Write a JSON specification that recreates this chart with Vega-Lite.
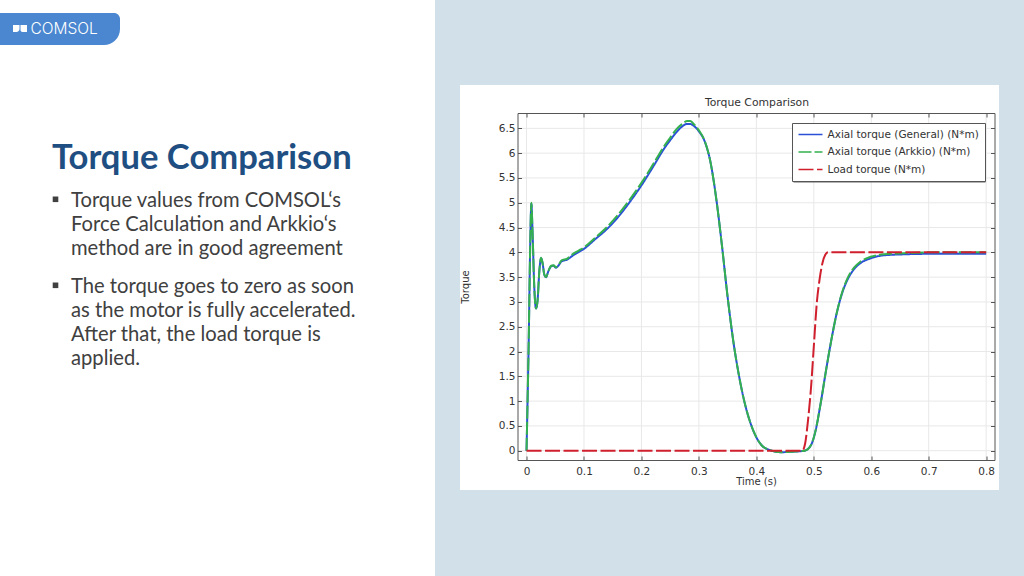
{
  "$schema": "https://vega.github.io/schema/vega-lite/v6.json",
  "autosize": "none",
  "width": 477,
  "height": 347,
  "padding": {"left": 517.5, "top": 113, "right": 29.5, "bottom": 116},
  "background": "white",
  "config": {"view": {"stroke": null}},
  "datasets": {
    "torque": [
      {"time":0,"torque":0,"series":"Axial torque (General) (N*m)"},
      {"time":0.0038,"torque":2.2,"series":"Axial torque (General) (N*m)"},
      {"time":0.0065,"torque":4.2,"series":"Axial torque (General) (N*m)"},
      {"time":0.0084,"torque":4.98,"series":"Axial torque (General) (N*m)"},
      {"time":0.0105,"torque":4.4,"series":"Axial torque (General) (N*m)"},
      {"time":0.0135,"torque":3.3,"series":"Axial torque (General) (N*m)"},
      {"time":0.0165,"torque":2.87,"series":"Axial torque (General) (N*m)"},
      {"time":0.019,"torque":3.0,"series":"Axial torque (General) (N*m)"},
      {"time":0.0225,"torque":3.65,"series":"Axial torque (General) (N*m)"},
      {"time":0.0253,"torque":3.88,"series":"Axial torque (General) (N*m)"},
      {"time":0.028,"torque":3.78,"series":"Axial torque (General) (N*m)"},
      {"time":0.031,"torque":3.55,"series":"Axial torque (General) (N*m)"},
      {"time":0.034,"torque":3.5,"series":"Axial torque (General) (N*m)"},
      {"time":0.038,"torque":3.62,"series":"Axial torque (General) (N*m)"},
      {"time":0.043,"torque":3.72,"series":"Axial torque (General) (N*m)"},
      {"time":0.047,"torque":3.73,"series":"Axial torque (General) (N*m)"},
      {"time":0.051,"torque":3.69,"series":"Axial torque (General) (N*m)"},
      {"time":0.056,"torque":3.74,"series":"Axial torque (General) (N*m)"},
      {"time":0.061,"torque":3.82,"series":"Axial torque (General) (N*m)"},
      {"time":0.07,"torque":3.85,"series":"Axial torque (General) (N*m)"},
      {"time":0.08,"torque":3.93,"series":"Axial torque (General) (N*m)"},
      {"time":0.09,"torque":4.0,"series":"Axial torque (General) (N*m)"},
      {"time":0.1,"torque":4.07,"series":"Axial torque (General) (N*m)"},
      {"time":0.12,"torque":4.27,"series":"Axial torque (General) (N*m)"},
      {"time":0.14,"torque":4.47,"series":"Axial torque (General) (N*m)"},
      {"time":0.16,"torque":4.72,"series":"Axial torque (General) (N*m)"},
      {"time":0.18,"torque":5.02,"series":"Axial torque (General) (N*m)"},
      {"time":0.2,"torque":5.35,"series":"Axial torque (General) (N*m)"},
      {"time":0.22,"torque":5.72,"series":"Axial torque (General) (N*m)"},
      {"time":0.24,"torque":6.1,"series":"Axial torque (General) (N*m)"},
      {"time":0.25,"torque":6.26,"series":"Axial torque (General) (N*m)"},
      {"time":0.26,"torque":6.41,"series":"Axial torque (General) (N*m)"},
      {"time":0.27,"torque":6.53,"series":"Axial torque (General) (N*m)"},
      {"time":0.28,"torque":6.59,"series":"Axial torque (General) (N*m)"},
      {"time":0.285,"torque":6.59,"series":"Axial torque (General) (N*m)"},
      {"time":0.29,"torque":6.56,"series":"Axial torque (General) (N*m)"},
      {"time":0.3,"torque":6.44,"series":"Axial torque (General) (N*m)"},
      {"time":0.31,"torque":6.24,"series":"Axial torque (General) (N*m)"},
      {"time":0.32,"torque":5.83,"series":"Axial torque (General) (N*m)"},
      {"time":0.33,"torque":5.1,"series":"Axial torque (General) (N*m)"},
      {"time":0.34,"torque":4.15,"series":"Axial torque (General) (N*m)"},
      {"time":0.35,"torque":3.1,"series":"Axial torque (General) (N*m)"},
      {"time":0.36,"torque":2.2,"series":"Axial torque (General) (N*m)"},
      {"time":0.37,"torque":1.5,"series":"Axial torque (General) (N*m)"},
      {"time":0.38,"torque":0.95,"series":"Axial torque (General) (N*m)"},
      {"time":0.39,"torque":0.55,"series":"Axial torque (General) (N*m)"},
      {"time":0.4,"torque":0.27,"series":"Axial torque (General) (N*m)"},
      {"time":0.41,"torque":0.1,"series":"Axial torque (General) (N*m)"},
      {"time":0.423,"torque":0.015,"series":"Axial torque (General) (N*m)"},
      {"time":0.443,"torque":-0.03,"series":"Axial torque (General) (N*m)"},
      {"time":0.463,"torque":-0.02,"series":"Axial torque (General) (N*m)"},
      {"time":0.484,"torque":0,"series":"Axial torque (General) (N*m)"},
      {"time":0.495,"torque":0.11,"series":"Axial torque (General) (N*m)"},
      {"time":0.503,"torque":0.4,"series":"Axial torque (General) (N*m)"},
      {"time":0.512,"torque":0.96,"series":"Axial torque (General) (N*m)"},
      {"time":0.521,"torque":1.6,"series":"Axial torque (General) (N*m)"},
      {"time":0.53,"torque":2.2,"series":"Axial torque (General) (N*m)"},
      {"time":0.54,"torque":2.78,"series":"Axial torque (General) (N*m)"},
      {"time":0.55,"torque":3.2,"series":"Axial torque (General) (N*m)"},
      {"time":0.56,"torque":3.48,"series":"Axial torque (General) (N*m)"},
      {"time":0.57,"torque":3.66,"series":"Axial torque (General) (N*m)"},
      {"time":0.581,"torque":3.78,"series":"Axial torque (General) (N*m)"},
      {"time":0.599,"torque":3.88,"series":"Axial torque (General) (N*m)"},
      {"time":0.622,"torque":3.94,"series":"Axial torque (General) (N*m)"},
      {"time":0.656,"torque":3.96,"series":"Axial torque (General) (N*m)"},
      {"time":0.7,"torque":3.97,"series":"Axial torque (General) (N*m)"},
      {"time":0.8,"torque":3.97,"series":"Axial torque (General) (N*m)"},
      {"time":0,"torque":0,"series":"Axial torque (Arkkio) (N*m)"},
      {"time":0.0038,"torque":2.2,"series":"Axial torque (Arkkio) (N*m)"},
      {"time":0.0065,"torque":4.2,"series":"Axial torque (Arkkio) (N*m)"},
      {"time":0.0084,"torque":5.0,"series":"Axial torque (Arkkio) (N*m)"},
      {"time":0.0105,"torque":4.4,"series":"Axial torque (Arkkio) (N*m)"},
      {"time":0.0135,"torque":3.3,"series":"Axial torque (Arkkio) (N*m)"},
      {"time":0.0165,"torque":2.87,"series":"Axial torque (Arkkio) (N*m)"},
      {"time":0.019,"torque":3.0,"series":"Axial torque (Arkkio) (N*m)"},
      {"time":0.0225,"torque":3.65,"series":"Axial torque (Arkkio) (N*m)"},
      {"time":0.0253,"torque":3.89,"series":"Axial torque (Arkkio) (N*m)"},
      {"time":0.028,"torque":3.78,"series":"Axial torque (Arkkio) (N*m)"},
      {"time":0.031,"torque":3.55,"series":"Axial torque (Arkkio) (N*m)"},
      {"time":0.034,"torque":3.5,"series":"Axial torque (Arkkio) (N*m)"},
      {"time":0.038,"torque":3.62,"series":"Axial torque (Arkkio) (N*m)"},
      {"time":0.043,"torque":3.73,"series":"Axial torque (Arkkio) (N*m)"},
      {"time":0.047,"torque":3.74,"series":"Axial torque (Arkkio) (N*m)"},
      {"time":0.051,"torque":3.7,"series":"Axial torque (Arkkio) (N*m)"},
      {"time":0.056,"torque":3.75,"series":"Axial torque (Arkkio) (N*m)"},
      {"time":0.061,"torque":3.84,"series":"Axial torque (Arkkio) (N*m)"},
      {"time":0.07,"torque":3.87,"series":"Axial torque (Arkkio) (N*m)"},
      {"time":0.08,"torque":3.96,"series":"Axial torque (Arkkio) (N*m)"},
      {"time":0.09,"torque":4.03,"series":"Axial torque (Arkkio) (N*m)"},
      {"time":0.1,"torque":4.1,"series":"Axial torque (Arkkio) (N*m)"},
      {"time":0.12,"torque":4.3,"series":"Axial torque (Arkkio) (N*m)"},
      {"time":0.14,"torque":4.51,"series":"Axial torque (Arkkio) (N*m)"},
      {"time":0.16,"torque":4.77,"series":"Axial torque (Arkkio) (N*m)"},
      {"time":0.18,"torque":5.07,"series":"Axial torque (Arkkio) (N*m)"},
      {"time":0.2,"torque":5.4,"series":"Axial torque (Arkkio) (N*m)"},
      {"time":0.22,"torque":5.77,"series":"Axial torque (Arkkio) (N*m)"},
      {"time":0.24,"torque":6.15,"series":"Axial torque (Arkkio) (N*m)"},
      {"time":0.25,"torque":6.31,"series":"Axial torque (Arkkio) (N*m)"},
      {"time":0.26,"torque":6.47,"series":"Axial torque (Arkkio) (N*m)"},
      {"time":0.27,"torque":6.58,"series":"Axial torque (Arkkio) (N*m)"},
      {"time":0.28,"torque":6.65,"series":"Axial torque (Arkkio) (N*m)"},
      {"time":0.285,"torque":6.65,"series":"Axial torque (Arkkio) (N*m)"},
      {"time":0.29,"torque":6.6,"series":"Axial torque (Arkkio) (N*m)"},
      {"time":0.3,"torque":6.46,"series":"Axial torque (Arkkio) (N*m)"},
      {"time":0.31,"torque":6.25,"series":"Axial torque (Arkkio) (N*m)"},
      {"time":0.32,"torque":5.83,"series":"Axial torque (Arkkio) (N*m)"},
      {"time":0.33,"torque":5.1,"series":"Axial torque (Arkkio) (N*m)"},
      {"time":0.34,"torque":4.15,"series":"Axial torque (Arkkio) (N*m)"},
      {"time":0.35,"torque":3.1,"series":"Axial torque (Arkkio) (N*m)"},
      {"time":0.36,"torque":2.2,"series":"Axial torque (Arkkio) (N*m)"},
      {"time":0.37,"torque":1.5,"series":"Axial torque (Arkkio) (N*m)"},
      {"time":0.38,"torque":0.95,"series":"Axial torque (Arkkio) (N*m)"},
      {"time":0.39,"torque":0.55,"series":"Axial torque (Arkkio) (N*m)"},
      {"time":0.4,"torque":0.27,"series":"Axial torque (Arkkio) (N*m)"},
      {"time":0.41,"torque":0.1,"series":"Axial torque (Arkkio) (N*m)"},
      {"time":0.423,"torque":0.015,"series":"Axial torque (Arkkio) (N*m)"},
      {"time":0.443,"torque":-0.03,"series":"Axial torque (Arkkio) (N*m)"},
      {"time":0.463,"torque":-0.02,"series":"Axial torque (Arkkio) (N*m)"},
      {"time":0.484,"torque":0,"series":"Axial torque (Arkkio) (N*m)"},
      {"time":0.495,"torque":0.11,"series":"Axial torque (Arkkio) (N*m)"},
      {"time":0.503,"torque":0.4,"series":"Axial torque (Arkkio) (N*m)"},
      {"time":0.512,"torque":0.96,"series":"Axial torque (Arkkio) (N*m)"},
      {"time":0.521,"torque":1.6,"series":"Axial torque (Arkkio) (N*m)"},
      {"time":0.53,"torque":2.2,"series":"Axial torque (Arkkio) (N*m)"},
      {"time":0.54,"torque":2.78,"series":"Axial torque (Arkkio) (N*m)"},
      {"time":0.55,"torque":3.22,"series":"Axial torque (Arkkio) (N*m)"},
      {"time":0.56,"torque":3.51,"series":"Axial torque (Arkkio) (N*m)"},
      {"time":0.57,"torque":3.69,"series":"Axial torque (Arkkio) (N*m)"},
      {"time":0.581,"torque":3.81,"series":"Axial torque (Arkkio) (N*m)"},
      {"time":0.599,"torque":3.91,"series":"Axial torque (Arkkio) (N*m)"},
      {"time":0.622,"torque":3.96,"series":"Axial torque (Arkkio) (N*m)"},
      {"time":0.656,"torque":3.98,"series":"Axial torque (Arkkio) (N*m)"},
      {"time":0.7,"torque":4.0,"series":"Axial torque (Arkkio) (N*m)"},
      {"time":0.8,"torque":4.0,"series":"Axial torque (Arkkio) (N*m)"},
      {"time":0,"torque":0,"series":"Load torque (N*m)"},
      {"time":0.48,"torque":0,"series":"Load torque (N*m)"},
      {"time":0.485,"torque":0.15,"series":"Load torque (N*m)"},
      {"time":0.49,"torque":0.62,"series":"Load torque (N*m)"},
      {"time":0.495,"torque":1.25,"series":"Load torque (N*m)"},
      {"time":0.5,"torque":2.1,"series":"Load torque (N*m)"},
      {"time":0.505,"torque":2.95,"series":"Load torque (N*m)"},
      {"time":0.51,"torque":3.45,"series":"Load torque (N*m)"},
      {"time":0.515,"torque":3.78,"series":"Load torque (N*m)"},
      {"time":0.52,"torque":3.95,"series":"Load torque (N*m)"},
      {"time":0.525,"torque":4.0,"series":"Load torque (N*m)"},
      {"time":0.8,"torque":4.0,"series":"Load torque (N*m)"}
    ]
  },
  "resolve": {"axis": {"x": "independent", "y": "independent"}},
  "layer": [
    {"data": {"values": [{"part": "panel"}]}, "mark": {"type": "rect", "x": -82.5, "x2": 506.5, "y": -113, "y2": 463, "fill": "#d2e0e9"}},
    {"data": {"values": [{"part": "card"}]}, "mark": {"type": "rect", "x": -57.5, "x2": 481.5, "y": -28, "y2": 377, "fill": "white"}},
    {"data": {"values": [{"part": "logo"}]}, "mark": {"type": "rect", "x": -517.5, "x2": -397.5, "y": -100, "y2": -68, "fill": "#4a87d0", "cornerRadiusTopRight": 6, "cornerRadiusBottomRight": 30}},
    {"data": {"values": [{"part": "logo mark"}]}, "mark": {"type": "rect", "x": -504.5, "x2": -498, "y": -88, "y2": -81, "fill": "white", "cornerRadiusBottomRight": 3}},
    {"data": {"values": [{"part": "logo mark"}]}, "mark": {"type": "rect", "x": -497, "x2": -490.5, "y": -88, "y2": -81, "fill": "white", "cornerRadiusBottomLeft": 2}},
    {
      "data": {"values": [{"text": "COMSOL"}]},
      "mark": {"type": "text", "x": -487, "y": -84.5, "align": "left", "font": "Inter", "fontWeight": 300, "fontSize": 15.5, "color": "white"},
      "encoding": {"text": {"field": "text"}}
    },
    {
      "data": {"values": [{"text": "Torque Comparison"}]},
      "mark": {"type": "text", "x": -465.5, "y": 45.5, "align": "left", "font": "Lato", "fontWeight": "bold", "fontSize": 34.6, "color": "#1f4e82"},
      "encoding": {"text": {"field": "text"}}
    },
    {
      "data": {"values": [{"text": "Torque values from COMSOL‘s\nForce Calculation and Arkkio‘s\nmethod are in good agreement"}]},
      "mark": {"type": "text", "x": -446.5, "y": 93.5, "align": "left", "baseline": "alphabetic", "lineBreak": "\n", "lineHeight": 24, "font": "Lato", "fontSize": 20.2, "color": "#404040"},
      "encoding": {"text": {"field": "text"}}
    },
    {
      "data": {"values": [{"text": "The torque goes to zero as soon\nas the motor is fully accelerated.\nAfter that, the load torque is\napplied."}]},
      "mark": {"type": "text", "x": -446.5, "y": 179.5, "align": "left", "baseline": "alphabetic", "lineBreak": "\n", "lineHeight": 24, "font": "Lato", "fontSize": 20.2, "color": "#404040"},
      "encoding": {"text": {"field": "text"}}
    },
    {"data": {"values": [{"part": "bullet"}]}, "mark": {"type": "rect", "x": -464.8, "x2": -459.2, "y": 83.5, "y2": 89.1, "fill": "#404040"}},
    {"data": {"values": [{"part": "bullet"}]}, "mark": {"type": "rect", "x": -464.8, "x2": -459.2, "y": 169.5, "y2": 175.1, "fill": "#404040"}},
    {
      "data": {"values": [{"text": "Torque Comparison"}]},
      "mark": {"type": "text", "x": 239.5, "y": -10, "align": "center", "font": "DejaVu Sans", "fontSize": 10.8, "color": "#333"},
      "encoding": {"text": {"field": "text"}}
    },
    {
      "data": {"values": [{"tick": 0}, {"tick": 0.1}, {"tick": 0.2}, {"tick": 0.3}, {"tick": 0.4}, {"tick": 0.5}, {"tick": 0.6}, {"tick": 0.7}, {"tick": 0.8}]},
      "mark": {"type": "rule", "color": "#e8e8e8", "strokeWidth": 1},
      "encoding": {"x": {"field": "tick", "type": "quantitative", "axis": null, "scale": {"domain": [-0.0157, 0.8145], "nice": false, "zero": false}}}
    },
    {
      "data": {"values": [{"tick": 0}, {"tick": 0.5}, {"tick": 1}, {"tick": 1.5}, {"tick": 2}, {"tick": 2.5}, {"tick": 3}, {"tick": 3.5}, {"tick": 4}, {"tick": 4.5}, {"tick": 5}, {"tick": 5.5}, {"tick": 6}, {"tick": 6.5}]},
      "mark": {"type": "rule", "color": "#e8e8e8", "strokeWidth": 1},
      "encoding": {"y": {"field": "tick", "type": "quantitative", "axis": null, "scale": {"domain": [-0.1875, 6.81], "nice": false, "zero": false}}}
    },
    {
      "data": {"name": "torque"},
      "transform": [{"filter": "datum.series != 'Load torque (N*m)'"}],
      "mark": {"type": "line", "strokeWidth": 2, "interpolate": "monotone"},
      "encoding": {
        "x": {"field": "time", "type": "quantitative", "scale": {"domain": [-0.0157, 0.8145], "nice": false, "zero": false},
          "axis": {"orient": "bottom", "zindex": 1, "title": "Time (s)", "values": [0, 0.1, 0.2, 0.3, 0.4, 0.5, 0.6, 0.7, 0.8], "format": "~g", "grid": false, "tickSize": -4, "tickColor": "#555", "domainColor": "#555", "labelPadding": 10, "labelFont": "DejaVu Sans", "labelFontSize": 10.5, "labelColor": "#333", "titleFont": "DejaVu Sans", "titleFontSize": 10, "titleFontWeight": "normal", "titleColor": "#333", "titlePadding": 0}},
        "y": {"field": "torque", "type": "quantitative", "scale": {"domain": [-0.1875, 6.81], "nice": false, "zero": false},
          "axis": {"orient": "left", "zindex": 1, "title": "Torque", "values": [0, 0.5, 1, 1.5, 2, 2.5, 3, 3.5, 4, 4.5, 5, 5.5, 6, 6.5], "format": "~g", "grid": false, "tickSize": -4, "tickColor": "#555", "domainColor": "#555", "labelPadding": 6.5, "labelFont": "DejaVu Sans", "labelFontSize": 10.5, "labelColor": "#333", "titleFont": "DejaVu Sans", "titleFontSize": 10, "titleFontWeight": "normal", "titleColor": "#333", "titlePadding": 28}},
        "color": {"field": "series", "type": "nominal",
          "scale": {"domain": ["Axial torque (General) (N*m)", "Axial torque (Arkkio) (N*m)", "Load torque (N*m)"], "range": ["#2a50d8", "#35b04f", "#d0202e"]},
          "legend": {"orient": "none", "legendX": 274.5, "legendY": 10, "title": null, "symbolType": "stroke", "symbolSize": 576, "symbolStrokeWidth": 1.6, "clipHeight": 12, "rowPadding": 5.5, "labelOffset": 4, "labelLimit": 200, "labelFont": "DejaVu Sans", "labelFontSize": 10.5, "labelColor": "#333", "fillColor": "white", "strokeColor": "#555", "padding": 5.5,
            "encode": {"symbols": {"update": {"strokeDash": {"signal": "datum.value == 'Axial torque (General) (N*m)' ? [1, 0] : [9, 5]"}}}}}},
        "strokeDash": {"field": "series", "type": "nominal",
          "scale": {"domain": ["Axial torque (General) (N*m)", "Axial torque (Arkkio) (N*m)", "Load torque (N*m)"], "range": [[1, 0], [13, 3], [15, 3.5]]},
          "legend": null}
      }
    },
    {
      "data": {"name": "torque"},
      "transform": [{"filter": "datum.series == 'Load torque (N*m)'"}],
      "mark": {"type": "line", "strokeWidth": 2, "interpolate": "monotone"},
      "encoding": {
        "x": {"field": "time", "type": "quantitative", "scale": {"domain": [-0.0157, 0.8145], "nice": false, "zero": false},
          "axis": {"orient": "top", "zindex": 1, "title": null, "values": [0, 0.1, 0.2, 0.3, 0.4, 0.5, 0.6, 0.7, 0.8], "labels": false, "grid": false, "tickSize": -4, "tickColor": "#555", "domainColor": "#555"}},
        "y": {"field": "torque", "type": "quantitative", "scale": {"domain": [-0.1875, 6.81], "nice": false, "zero": false},
          "axis": {"orient": "right", "zindex": 1, "title": null, "values": [0, 0.5, 1, 1.5, 2, 2.5, 3, 3.5, 4, 4.5, 5, 5.5, 6, 6.5], "labels": false, "grid": false, "tickSize": -4, "tickColor": "#555", "domainColor": "#555"}},
        "color": {"field": "series", "type": "nominal"},
        "strokeDash": {"field": "series", "type": "nominal"}
      }
    },
    {"data": {"values": [{"part": "legend shadow"}]}, "mark": {"type": "rect", "x": 276, "x2": 468, "y": 11.5, "y2": 69.5, "fill": "#666"}}
  ]
}
